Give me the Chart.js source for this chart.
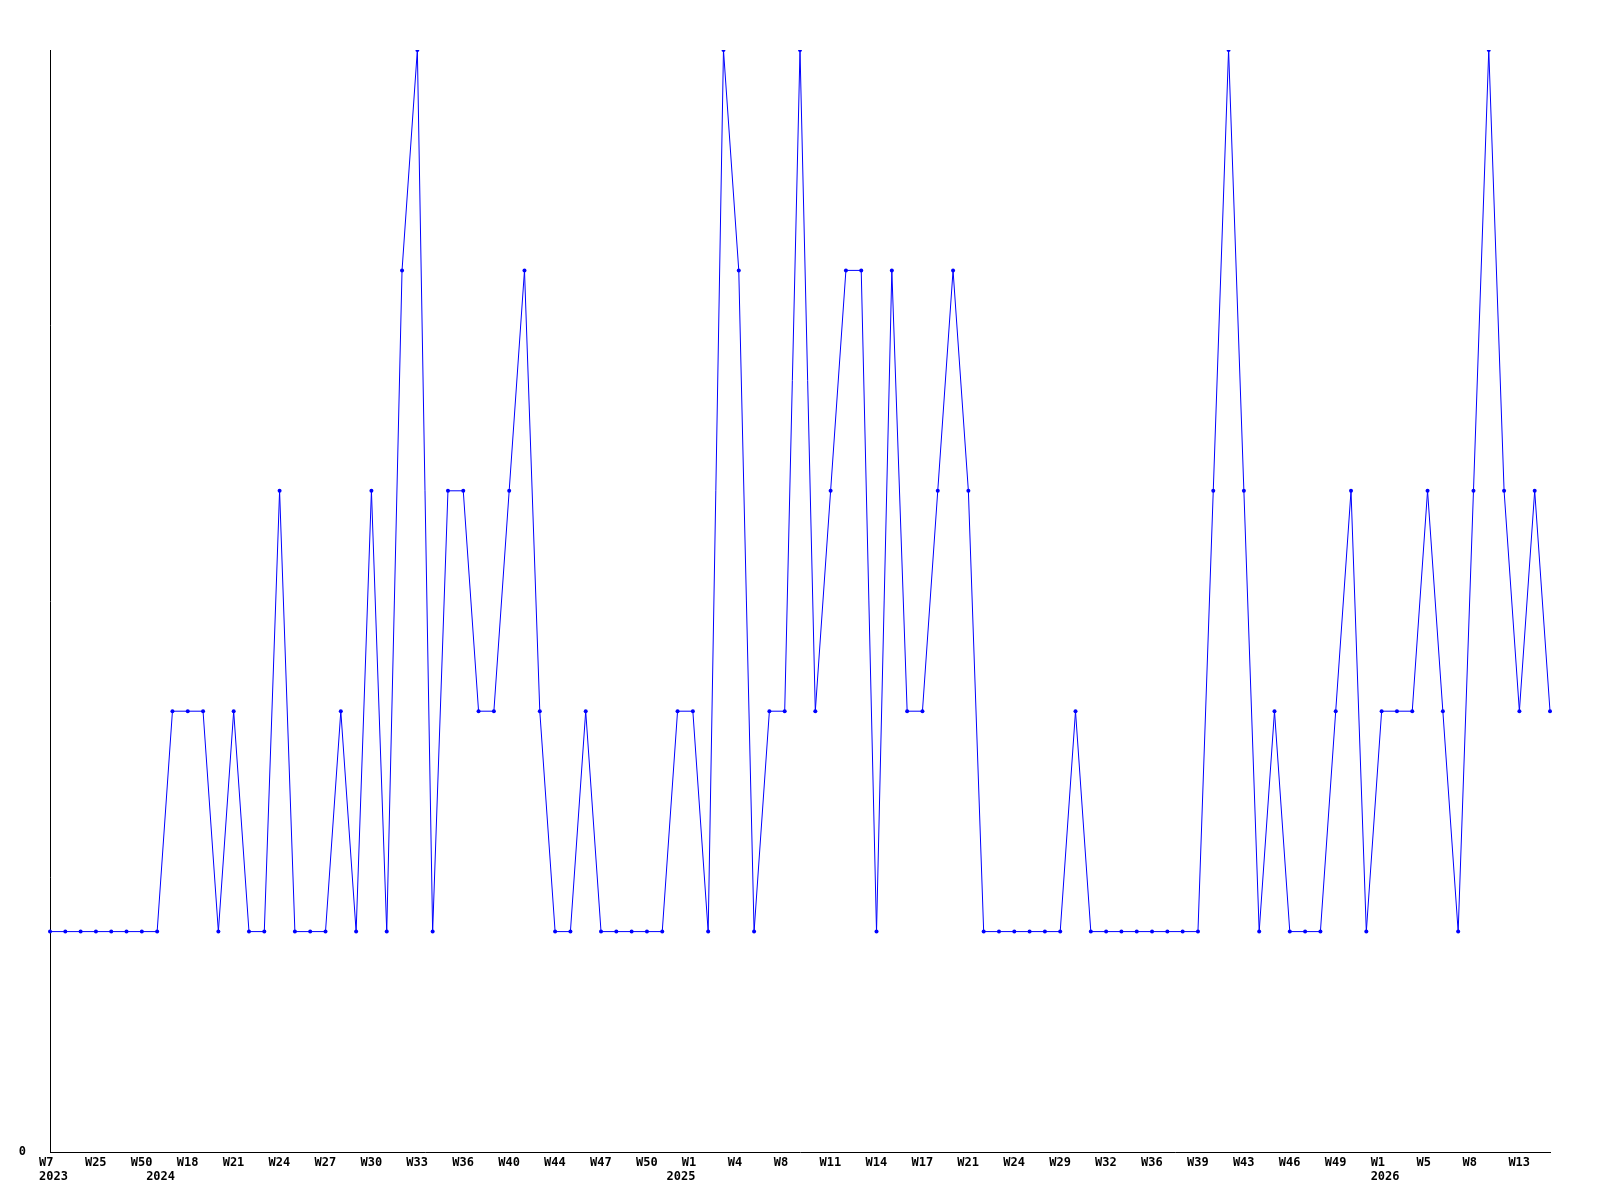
<!DOCTYPE html>
<html>
<head>
<meta charset="utf-8">
<title>Weekly counts</title>
<script src="https://cdn.jsdelivr.net/npm/chart.js@4/dist/chart.umd.min.js"></script>
<style>
    html, body { margin: 0; padding: 0; background: #fff; }
    #wrap { width: 1600px; height: 1200px; }
</style>
</head>
<body>
<div id="wrap"><canvas id="weeklyChart" width="1600" height="1200"></canvas></div>
<script>
// One week label every third point
const tickWeeks = ['W7', 'W25', 'W50', 'W18', 'W21', 'W24', 'W27', 'W30', 'W33', 'W36', 'W40',
    'W44', 'W47', 'W50', 'W1', 'W4', 'W8', 'W11', 'W14', 'W17', 'W21', 'W24', 'W29',
    'W32', 'W36', 'W39', 'W43', 'W46', 'W49', 'W1', 'W5', 'W8', 'W13'];
const labelEvery = 3;

// Year labels sit under the first point of each year
const years = ['2023', '2024', '2025', '2026'];
const yearStartIndex = [0, 7, 41, 87];

const counts = [1, 1, 1, 1, 1, 1, 1, 1, 2, 2, 2, 1, 2, 1, 1, 3, 1, 1, 1, 2,
    1, 3, 1, 4, 5, 1, 3, 3, 2, 2, 3, 4, 2, 1, 1, 2, 1, 1, 1, 1,
    1, 2, 2, 1, 5, 4, 1, 2, 2, 5, 2, 3, 4, 4, 1, 4, 2, 2, 3, 4,
    3, 1, 1, 1, 1, 1, 1, 2, 1, 1, 1, 1, 1, 1, 1, 1, 3, 5, 3, 1,
    2, 1, 1, 1, 2, 3, 1, 2, 2, 2, 3, 2, 1, 3, 5, 3, 2, 3, 2];

const yMin = 0;
const yMax = 5;

const labels = counts.map((_, i) => (i % labelEvery === 0 ? tickWeeks[i / labelEvery] : ''));

const fontFamily = '"DejaVu Sans Mono", monospace';
const tickFont = { family: fontFamily, size: 12, weight: 'bold' };
const labelShift = -11;

// draws the year row under the week labels
const yearRow = {
    id: 'yearRow',
    afterDraw(chart) {
        const ctx = chart.ctx;
        const xScale = chart.scales.x;
        ctx.save();
        ctx.font = 'bold 12px ' + fontFamily;
        ctx.fillStyle = '#000';
        ctx.textAlign = 'left';
        ctx.textBaseline = 'middle';
        years.forEach((y, k) => {
            const px = xScale.getPixelForValue(yearStartIndex[k]) + labelShift;
            ctx.fillText(y, px, xScale.bottom - 23);
        });
        ctx.restore();
    }
};

new Chart(document.getElementById('weeklyChart'), {
    type: 'line',
    data: {
        labels: labels,
        datasets: [{
            data: counts,
            borderColor: '#0000ff',
            backgroundColor: '#0000ff',
            borderWidth: 1,
            pointRadius: 2,
            pointHoverRadius: 2,
            pointBorderWidth: 0,
            tension: 0,
            fill: false
        }]
    },
    options: {
        responsive: false,
        animation: false,
        layout: { padding: { top: 50, right: 50, left: 0, bottom: 0 } },
        plugins: {
            legend: { display: false },
            tooltip: { enabled: false }
        },
        scales: {
            x: {
                offset: false,
                grid: { display: false, drawTicks: false },
                border: { display: true, color: '#000', width: 1 },
                ticks: {
                    autoSkip: false,
                    maxRotation: 0,
                    minRotation: 0,
                    align: 'start',
                    labelOffset: labelShift,
                    padding: 4,
                    color: '#000',
                    font: tickFont
                },
                afterFit: (scale) => { scale.height = 48; }
            },
            y: {
                min: yMin,
                max: yMax,
                grid: { display: false, drawTicks: false },
                border: { display: true, color: '#000', width: 1 },
                ticks: {
                    stepSize: 5,
                    padding: 24,
                    color: '#000',
                    font: tickFont,
                    callback: (v) => (v === 0 ? '0' : '')
                },
                afterFit: (scale) => { scale.width = 50; }
            }
        }
    },
    plugins: [yearRow]
});
</script>
</body>
</html>
